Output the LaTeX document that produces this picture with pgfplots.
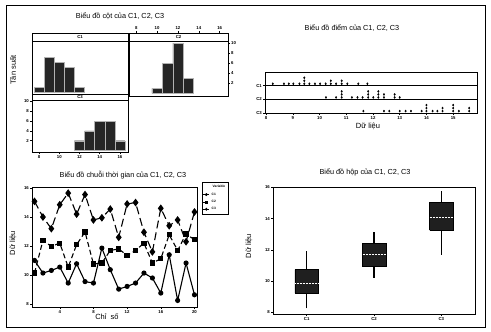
\documentclass[border=0pt]{standalone}
\usepackage{fontspec}
\setmainfont{Liberation Sans}
\usepackage{pgfplots}
\pgfplotsset{compat=1.18}
\newcommand{\ttl}{\fontsize{7.3}{8}\selectfont}
\newcommand{\lbl}{\fontsize{7.5}{8}\selectfont}
\newcommand{\tck}{\fontsize{4.3}{5}\selectfont\bfseries}
\pgfplotsset{
  mini/.style={scale only axis, axis line style={line width=0.6pt},
    tick align=outside, major tick length=2pt,
    tick style={black, line width=0.5pt},
    tick label style={font=\tck},
    /pgf/number format/assume math mode=true,
    xticklabel style={inner sep=1pt}, yticklabel style={inner sep=1pt}},
  hbar/.style={ybar, bar width=1, fill=black!85, draw=gray!60, line width=0.3pt},
  bxf/.style={fill=black!88, draw=black, line width=0.5pt},
  bxw/.style={black, line width=1.6pt},
  bxm/.style={white, densely dotted, line width=0.5pt},
}
\begin{document}
\begin{tikzpicture}
\useasboundingbox (0pt,0pt) rectangle (491pt,-332pt);
\fill[white] (0pt,0pt) rectangle (491pt,-332pt);
\draw[line width=0.9pt] (6pt,-5pt) rectangle (485pt,-327pt);

% ---------------- Histogram panel ----------------
\begin{axis}[mini, at={(32pt,-94.5pt)}, anchor=south west, width=96pt, height=61.5pt,
  xmin=7.3, xmax=16.8, ymin=-0.5, ymax=11.9, xtick=\empty, ytick=\empty]
\addplot[hbar] coordinates {(8,1)(9,7)(10,6)(11,5)(12,1)};
\end{axis}
\begin{axis}[mini, at={(129pt,-96pt)}, anchor=south west, width=99pt, height=63pt,
  xmin=7.3, xmax=16.8, ymin=-0.5, ymax=12, xtick={8,10,12,14,16}, ytick={2,4,6,8,10},
  xtick pos=right, xticklabel pos=right, ytick pos=right, yticklabel pos=right]
\addplot[hbar] coordinates {(10,1)(11,6)(12,10)(13,3)};
\end{axis}
\begin{axis}[mini, at={(32pt,-152pt)}, anchor=south west, width=96pt, height=52pt,
  xmin=7.3, xmax=16.8, ymin=-0.3, ymax=10.3, xtick={8,10,12,14,16}, ytick={2,4,6,8,10},
  xtick pos=left, ytick pos=left]
\addplot[hbar] coordinates {(12,2)(13,4)(14,6)(15,6)(16,2)};
\end{axis}
\draw[line width=0.6pt, fill=white] (32pt,-33pt) rectangle (128pt,-41pt);
\draw[line width=0.6pt, fill=white] (129pt,-33pt) rectangle (228pt,-41pt);
\draw[line width=0.6pt, fill=white] (32pt,-94.5pt) rectangle (128pt,-100pt);
\node[font=\tck] at (80pt,-37pt) {C1};
\node[font=\tck] at (178.5pt,-37pt) {C2};
\node[font=\tck] at (80pt,-97.3pt) {C3};
\node[font=\ttl] at (120pt,-16pt) {Biểu đồ cột của C1, C2, C3};
\node[font=\lbl, rotate=90] at (13pt,-70pt) {Tần suất};

% ---------------- Dot plot panel ----------------
\begin{axis}[mini, at={(265pt,-113pt)}, anchor=south west, width=212pt, height=41pt,
  xmin=7.96, xmax=15.89, ymin=0, ymax=3,
  xtick={8,9,10,11,12,13,14,15}, ytick={0,1,2}, yticklabels={C3,C2,C1},
  xtick pos=left, ytick pos=left, ymajorgrids, major grid style={black, line width=0.6pt}]
\addplot[only marks, mark=*, mark size=0.75pt, mark options={yscale=1.35}] coordinates {
(8.25,2.14)(8.67,2.14)(8.85,2.14)(9.02,2.14)(9.25,2.14)(9.43,2.14)(9.43,2.36)(9.43,2.58)
(9.62,2.14)(9.83,2.14)(10.02,2.14)(10.23,2.14)(10.42,2.14)(10.42,2.36)(10.62,2.14)
(10.83,2.14)(10.83,2.36)(11.04,2.14)(11.45,2.14)(11.79,2.14)};
\addplot[only marks, mark=*, mark size=0.75pt, mark options={yscale=1.35}] coordinates {
(10.24,1.14)(10.62,1.14)(10.83,1.14)(10.83,1.36)(10.83,1.58)(11.21,1.14)(11.42,1.14)
(11.61,1.14)(11.82,1.14)(11.82,1.36)(11.82,1.58)(12.01,1.14)(12.2,1.14)(12.2,1.36)
(12.2,1.58)(12.41,1.14)(12.41,1.36)(12.81,1.14)(12.81,1.36)(13.0,1.14)};
\addplot[only marks, mark=*, mark size=0.75pt, mark options={yscale=1.35}] coordinates {
(11.64,0.14)(12.41,0.14)(12.61,0.14)(13.0,0.14)(13.22,0.14)(13.42,0.14)(13.82,0.14)
(14.0,0.14)(14.0,0.36)(14.0,0.58)(14.23,0.14)(14.41,0.14)(14.6,0.14)(14.6,0.36)
(15.0,0.14)(15.0,0.36)(15.0,0.58)(15.21,0.14)(15.6,0.14)(15.6,0.36)};
\end{axis}
\node[font=\ttl] at (352pt,-28pt) {Biểu đồ điểm của C1, C2, C3};
\node[font=\lbl] at (368pt,-126pt) {Dữ liệu};

% ---------------- Time series panel ----------------
\begin{axis}[mini, at={(32pt,-307pt)}, anchor=south west, width=165pt, height=120pt,
  xmin=0.7, xmax=20.3, ymin=7.8, ymax=16.07,
  xtick={4,8,12,16,20}, ytick={8,10,12,14,16}, xtick pos=left, ytick pos=left,
  legend style={at={(1.03,1.04)}, anchor=north west, font=\fontsize{3.3}{3.7}\selectfont\bfseries,
    draw=black, line width=0.6pt, inner sep=0.8pt, row sep=-0.5pt, cells={anchor=west},
    /tikz/every odd column/.style={}},
  legend image code/.code={\draw[mark repeat=2,mark phase=2,#1, mark size=1.1pt, line width=0.6pt]
    plot coordinates {(0pt,0pt) (3pt,0pt) (6pt,0pt)};}]
\addlegendimage{empty legend}
\addlegendentry{\hspace{1pt}Variable}
\addplot[black, line width=1.1pt, mark=*, mark size=2pt, mark options={solid}] coordinates {
(1,11.01)(2,10.14)(3,10.32)(4,10.55)(5,9.45)(6,10.78)(7,9.55)(8,9.45)(9,11.86)(10,10.37)
(11,9.03)(12,9.22)(13,9.45)(14,10.14)(15,9.8)(16,8.76)(17,11.4)(18,8.25)(19,10.83)(20,8.64)};
\addlegendentry{C1}
\addplot[black, line width=1.1pt, dash pattern=on 5pt off 3pt, mark=square*, mark size=2.1pt, mark options={solid}] coordinates {
(1,10.14)(2,12.39)(3,11.98)(4,12.2)(5,10.55)(6,12.1)(7,12.97)(8,10.76)(9,10.83)(10,11.7)
(11,11.8)(12,11.36)(13,11.7)(14,12.2)(15,10.83)(16,11.13)(17,12.78)(18,11.7)(19,12.83)(20,12.44)};
\addlegendentry{C2}
\addplot[black, line width=1.1pt, dash pattern=on 8pt off 4pt, mark=diamond*, mark size=3pt, mark options={solid}] coordinates {
(1,15.08)(2,14.0)(3,13.2)(4,14.85)(5,15.65)(6,14.2)(7,15.55)(8,13.8)(9,13.95)(10,14.55)
(11,12.6)(12,14.9)(13,15.0)(14,12.95)(15,11.6)(16,14.6)(17,13.4)(18,13.8)(19,12.3)(20,14.35)};
\addlegendentry{C3}
\end{axis}
\node[font=\ttl] at (123pt,-175pt) {Biểu đồ chuỗi thời gian của C1, C2, C3};
\node[font=\lbl] at (107pt,-317pt) {Chỉ\ \ số};
\node[font=\lbl, rotate=90] at (13pt,-243pt) {Dữ liệu};

% ---------------- Box plot panel ----------------
\begin{axis}[mini, at={(273pt,-314pt)}, anchor=south west, width=202pt, height=127pt,
  xmin=0.5, xmax=3.5, ymin=7.9, ymax=16.03,
  xtick={1,2,3}, xticklabels={C1,C2,C3}, ytick={8,10,12,14,16}, xtick pos=left, ytick pos=left]
% whiskers
\addplot[bxw] coordinates {(1,8.26)(1,9.25)};
\addplot[bxw] coordinates {(1,10.74)(1,11.94)};
\addplot[bxw] coordinates {(2,10.23)(2,10.93)};
\addplot[bxw] coordinates {(2,12.43)(2,13.13)};
\addplot[bxw] coordinates {(3,11.7)(3,13.26)};
\addplot[bxw] coordinates {(3,15.06)(3,15.76)};
% boxes (Q1 to Q3)
\addplot[bxf] coordinates {(0.825,9.25)(1.175,9.25)(1.175,10.74)(0.825,10.74)(0.825,9.25)};
\addplot[bxf] coordinates {(1.825,10.93)(2.175,10.93)(2.175,12.43)(1.825,12.43)(1.825,10.93)};
\addplot[bxf] coordinates {(2.825,13.26)(3.175,13.26)(3.175,15.06)(2.825,15.06)(2.825,13.26)};
% medians
\addplot[bxm] coordinates {(0.83,9.86)(1.17,9.86)};
\addplot[bxm] coordinates {(1.83,11.7)(2.17,11.7)};
\addplot[bxm] coordinates {(2.83,14.07)(3.17,14.07)};
\end{axis}
\node[font=\ttl] at (365pt,-172pt) {Biểu đồ hộp của C1, C2, C3};
\node[font=\lbl, rotate=90] at (249pt,-246pt) {Dữ liệu};
\end{tikzpicture}
\end{document}
